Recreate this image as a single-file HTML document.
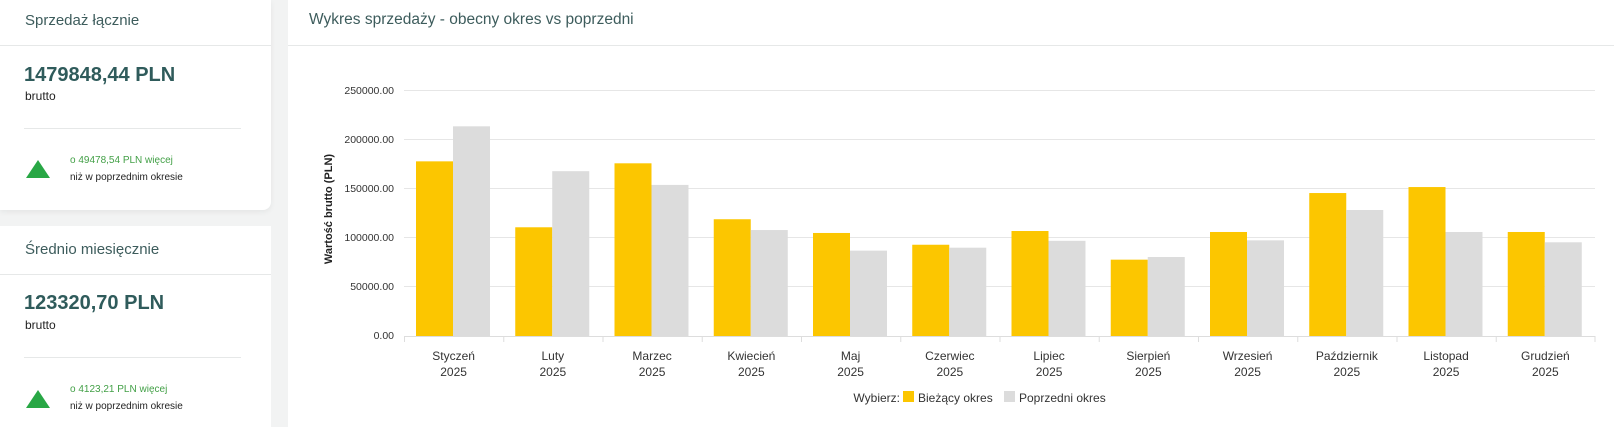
<!DOCTYPE html>
<html><head><meta charset="utf-8"><style>
html,body{margin:0;padding:0;width:1614px;height:427px;overflow:hidden;background:#f2f3f3;font-family:"Liberation Sans",sans-serif}
.card{position:absolute;background:#fff}
.t{position:absolute;white-space:nowrap}
.hl{position:absolute;height:1px;background:#e6e8e8}
.tri{position:absolute;width:0;height:0;border-left:12px solid transparent;border-right:12px solid transparent;border-bottom:18px solid #28a745}
</style></head><body>
<div class="card" style="left:0;top:0;width:271px;height:210px;border-radius:0 0 8px 0;box-shadow:0 2px 6px rgba(0,0,0,0.06)"></div>
<div class="card" style="left:0;top:226px;width:271px;height:201px"></div>
<div class="card" style="left:288px;top:0;width:1326px;height:427px"></div>

<div class="hl" style="left:0;top:45px;width:271px"></div>
<div class="hl" style="left:24px;top:128px;width:217px"></div>
<div class="hl" style="left:0;top:274px;width:271px"></div>
<div class="hl" style="left:24px;top:357px;width:217px"></div>
<div class="hl" style="left:288px;top:45px;width:1326px"></div>

<div class="t" style="left:25px;top:12px;font-size:15px;color:#3d5c5c">Sprzedaż łącznie</div>
<div class="t" style="left:24px;top:64px;font-size:20px;font-weight:bold;color:#2f5b5b">1479848,44 PLN</div>
<div class="t" style="left:25px;top:89px;font-size:12px;color:#222">brutto</div>
<div class="tri" style="left:26px;top:160px"></div>
<div class="t" style="left:70px;top:155px;font-size:10px;color:#43a047">o 49478,54 PLN więcej</div>
<div class="t" style="left:70px;top:172px;font-size:10px;color:#222">niż w poprzednim okresie</div>

<div class="t" style="left:25px;top:241px;font-size:15px;color:#3d5c5c">Średnio miesięcznie</div>
<div class="t" style="left:24px;top:292px;font-size:20px;font-weight:bold;color:#2f5b5b">123320,70 PLN</div>
<div class="t" style="left:25px;top:318px;font-size:12px;color:#222">brutto</div>
<div class="tri" style="left:26px;top:390px"></div>
<div class="t" style="left:70px;top:384px;font-size:10px;color:#43a047">o 4123,21 PLN więcej</div>
<div class="t" style="left:70px;top:401px;font-size:10px;color:#222">niż w poprzednim okresie</div>

<div class="t" style="left:309px;top:11px;font-size:15.5px;color:#3d5c5c">Wykres sprzedaży - obecny okres vs poprzedni</div>

<svg style="position:absolute;left:0;top:0" width="1614" height="427" font-family="Liberation Sans, sans-serif">
<g stroke="#e6e6e6" stroke-width="1">
<line x1="404" x2="1595" y1="90.5" y2="90.5"/>
<line x1="404" x2="1595" y1="139.5" y2="139.5"/>
<line x1="404" x2="1595" y1="188.5" y2="188.5"/>
<line x1="404" x2="1595" y1="237.5" y2="237.5"/>
<line x1="404" x2="1595" y1="286.5" y2="286.5"/>
</g>
<g font-size="10.5" fill="#333" text-anchor="end">
<text x="394" y="94">250000.00</text>
<text x="394" y="143">200000.00</text>
<text x="394" y="192">150000.00</text>
<text x="394" y="241">100000.00</text>
<text x="394" y="290">50000.00</text>
<text x="394" y="339">0.00</text>
</g>
<text transform="translate(332,209) rotate(-90)" text-anchor="middle" font-size="11" font-weight="bold" fill="#222">Wartość brutto (PLN)</text>
<g id="bars"></g>
<line x1="404" x2="1595" y1="336.5" y2="336.5" stroke="#ddd"/>
<g id="ticks" stroke="#ddd"></g>
<g id="labels" font-size="12" fill="#333" text-anchor="middle"></g>
<text x="900" y="402" font-size="12" fill="#333" text-anchor="end">Wybierz:</text>
<rect x="903" y="391" width="11" height="11" fill="#fcc600"/>
<text x="918" y="402" font-size="12" fill="#333">Bieżący okres</text>
<rect x="1004" y="391" width="11" height="11" fill="#dcdcdc"/>
<text x="1019" y="402" font-size="12" fill="#333">Poprzedni okres</text>
</svg>
<script>
var y=[178,110.8,176,119,105,93,107,77.8,106,145.7,151.8,106];
var p=[213.7,168,154,108,87,90,97,80.5,97.5,128.4,106,95.5];
var n=["Styczeń","Luty","Marzec","Kwiecień","Maj","Czerwiec","Lipiec","Sierpień","Wrzesień","Październik","Listopad","Grudzień"];
var ns="http://www.w3.org/2000/svg",b=document.getElementById("bars"),t=document.getElementById("ticks"),l=document.getElementById("labels");
function el(tag,a,par,txt){var e=document.createElementNS(ns,tag);for(var k in a)e.setAttribute(k,a[k]);if(txt)e.textContent=txt;par.appendChild(e);}
for(var i=0;i<12;i++){var s=404+i*99.25,k=0.9812;
el("rect",{x:s+12,y:336-y[i]*k,width:37,height:y[i]*k,fill:"#fcc600"},b);
el("rect",{x:s+49,y:336-p[i]*k,width:37,height:p[i]*k,fill:"#dcdcdc"},b);
el("line",{x1:s+0.5,x2:s+0.5,y1:336,y2:342},t);
el("text",{x:s+49.6,y:360},l,n[i]);el("text",{x:s+49.6,y:376},l,"2025");}
el("line",{x1:1595,x2:1595,y1:336,y2:342},t);
</script>
</body></html>
